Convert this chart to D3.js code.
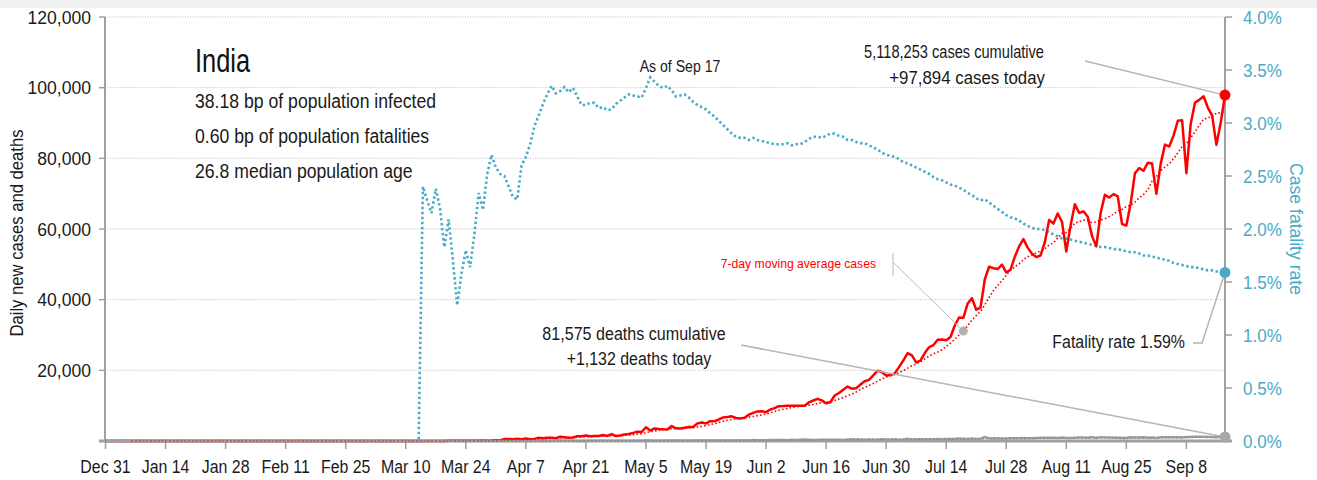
<!DOCTYPE html>
<html>
<head>
<meta charset="utf-8">
<script src="https://cdn.jsdelivr.net/npm/d3@7"></script>
<style>
  body { margin: 0; background: #fff; }
  svg text { font-family: "Liberation Sans", Arial, sans-serif; }
</style>
</head>
<body>
<div id="chart"></div>
<script>
// daily values, first day is Dec 31
var startDate = "2019-12-31";
var xTickDates = ["2019-12-31","2020-01-14","2020-01-28","2020-02-11","2020-02-25","2020-03-10","2020-03-24",
  "2020-04-07","2020-04-21","2020-05-05","2020-05-19","2020-06-02","2020-06-16","2020-06-30","2020-07-14",
  "2020-07-28","2020-08-11","2020-08-25","2020-09-08"];
var leftTicks = [0, 20000, 40000, 60000, 80000, 100000, 120000];
var rightTicks = [0, 0.005, 0.01, 0.015, 0.02, 0.025, 0.03, 0.035, 0.04];

// daily new cases
var casesDec = [0];
var casesJan = [0,0,0,0,0,0,0,0,0,0,0,0,0,0,0,0,0,0,0,0,0,0,0,0,0,0,0,0,0,0,1];
var casesFeb = [0,0,1,1,0,0,0,0,0,0,0,0,0,0,0,0,0,0,0,0,0,0,0,0,0,0,0,0,0];
var casesMar = [0,0,2,1,22,2,1,3,5,4,13,6,11,9,20,11,6,23,14,38,50,79,63,75,63,87,69,149,103,92,227];
var casesApr = [146,601,545,478,608,505,703,508,591,896,768,918,909,796,1211,1076,941,1007,1370,1334,
  1553,1336,1383,1409,1684,1429,1975,1396,1543,1813];
var casesMay = [1993,2293,2644,2553,3900,2958,3561,3390,3320,3277,4213,3604,3525,3722,3967,3970,4987,5242,4970,5611,
  5609,6088,6654,6767,6977,6535,6387,6566,7466,7964,8380];
var casesJun = [8392,8171,8909,9304,9851,9887,9971,9983,9987,9985,9996,10956,11458,11929,11502,10667,10974,12881,13586,14516,
  15413,14821,14933,15968,16922,17296,18552,19906,19459,18522];
var casesJul = [18653,19148,20903,22771,24850,24248,22252,22752,24879,26506,27114,28637,28701,28498,29429,32695,34956,34884,38902,40425,
  37148,37724,45720,49310,48916,48661,49931,47703,48513,52123,55079];
var casesAug = [57118,54735,52972,52050,52509,56282,62538,61537,64399,62064,53601,60963,66999,64553,65002,63490,57981,55079,64531,69652,
  68898,69878,69239,61408,60975,67151,75760,77266,76472,78761,78512];
var casesSep = [69921,78357,83883,83341,86432,90632,90802,75809,89706,95735,96551,97570,94372,92071,83809,90123,97894];

// daily new deaths
var deathsDec = [0];
var deathsJan = [0,0,0,0,0,0,0,0,0,0,0,0,0,0,0,0,0,0,0,0,0,0,0,0,0,0,0,0,0,0,0];
var deathsFeb = [0,0,0,0,0,0,0,0,0,0,0,0,0,0,0,0,0,0,0,0,0,0,0,0,0,0,0,0,0];
var deathsMar = [0,0,0,0,0,0,0,0,0,0,0,0,1,1,0,0,1,0,1,1,0,2,2,1,2,3,4,3,6,4,3];
var deathsApr = [3,12,12,21,11,25,33,12,21,38,35,25,35,36,38,36,38,42,31,33,36,46,48,39,37,53,53,63,43,73];
var deathsMay = [75,70,83,68,195,126,89,104,95,128,97,122,134,100,103,120,120,157,134,140,132,148,137,147,154,146,170,194,175,265,193];
var deathsJun = [204,217,260,273,294,287,206,331,279,357,396,386,311,325,380,343,334,336,375,306,445,465,418,407,384,410,380,417,507,418];
var deathsJul = [434,507,379,442,613,425,467,482,487,475,519,551,500,553,582,606,687,671,543,681,587,648,1129,740,757,705,708,654,768,775,764];
var deathsAug = [853,771,803,857,904,919,933,886,861,1007,871,834,942,1007,996,944,1092,876,1092,977,983,945,912,836,848,1059,1023,1021,1057,948,971];
var deathsSep = [819,1045,1043,1096,1089,1065,1016,1133,1115,1172,1209,1201,1114,1136,1054,1290,1132];

// case fatality rate (%), zero before Mar 13, daily from Mar 13
var cfrStart = "2020-03-13";
var cfrMar = [0,2.40,2.27,2.15,2.38,2.19,1.83,2.09,1.70,1.28,1.58,1.80,1.64,1.95,2.34,2.18,2.52,2.70,2.58];
var cfrApr = [2.52,2.50,2.40,2.30,2.28,2.60,2.68,2.80,2.97,3.07,3.18,3.27,3.35,3.28,3.30,3.34,3.29,3.33,3.25,3.17,
  3.17,3.19,3.19,3.14,3.15,3.12,3.13,3.18,3.21,3.24];
var cfrMay = [3.27,3.26,3.25,3.24,3.33,3.43,3.39,3.35,3.33,3.35,3.31,3.25,3.26,3.27,3.24,3.20,3.17,3.15,3.13,3.09,
  3.06,3.02,2.98,2.94,2.90,2.87,2.86,2.86,2.84,2.86,2.84];
var cfrJun = [2.83,2.82,2.81,2.80,2.80,2.80,2.81,2.79,2.80,2.80,2.82,2.85,2.87,2.87,2.86,2.88,2.90,2.90,2.88,2.87,
  2.84,2.84,2.82,2.81,2.81,2.79,2.77,2.75,2.72,2.70];
var cfrJul = [2.69,2.68,2.66,2.63,2.62,2.60,2.58,2.56,2.54,2.52,2.49,2.47,2.46,2.44,2.42,2.41,2.39,2.37,2.34,2.32,
  2.29,2.27,2.28,2.25,2.22,2.19,2.16,2.13,2.11,2.10,2.08];
var cfrAug = [2.05,2.03,2.01,2.00,2.00,1.99,1.97,1.95,1.93,1.91,1.91,1.90,1.89,1.88,1.87,1.86,1.85,1.84,1.83,1.83,
  1.82,1.81,1.81,1.80,1.79,1.78,1.78,1.77,1.75,1.75,1.74];
var cfrSep = [1.73,1.72,1.71,1.70,1.68,1.67,1.66,1.65,1.64,1.64,1.63,1.62,1.61,1.61,1.60,1.59,1.59];

var maDate = "2020-07-18"; // where the moving-average callout points

// ---------------------------------------------------------------
var W = 1317, H = 480;
var X0 = 105, X1 = 1225, Y0 = 17, Y1 = 441;
var teal = "#48abc8", red = "#ff0000", grey = "#a0a0a0", ink = "#1a1a1a";

var parse = d3.utcParse("%Y-%m-%d");
var day0 = parse(startDate);

var cases = [].concat(casesDec, casesJan, casesFeb, casesMar, casesApr, casesMay, casesJun, casesJul, casesAug, casesSep);
var deaths = [].concat(deathsDec, deathsJan, deathsFeb, deathsMar, deathsApr, deathsMay, deathsJun, deathsJul, deathsAug, deathsSep);
var cfrVals = [].concat(cfrMar, cfrApr, cfrMay, cfrJun, cfrJul, cfrAug, cfrSep);

// 7 day trailing mean
function ma7(arr, i) {
    if (i < 6) return null;
    return d3.mean(arr.slice(i - 6, i + 1));
}

var days = cases.map(function (c, i) {
    return {
        date: d3.utcDay.offset(day0, i),
        cases: c,
        deaths: deaths[i],
        casesMA: ma7(cases, i),
        deathsMA: ma7(deaths, i)
    };
});

var cfr = [{date: day0, v: 0}].concat(cfrVals.map(function (v, i) {
    return {date: d3.utcDay.offset(parse(cfrStart), i), v: v / 100};
}));

var last = days[days.length - 1];
var lastDate = last.date;

var x = d3.scaleUtc().domain([day0, lastDate]).range([X0 + 0.5, X1]);
var y = d3.scaleLinear().domain([0, 120000]).range([Y1, Y0]);
var y2 = d3.scaleLinear().domain([0, 0.04]).range([Y1, Y0]);

var svg = d3.select("#chart").append("svg")
    .attr("width", W)
    .attr("height", H);

// condensed text: squeeze horizontally
function txt(parent, px, py, str, size, sx, anchor, fill, rot) {
    return parent.append("text")
        .attr("transform", "translate(" + px + "," + py + ")" + (rot ? " rotate(" + rot + ")" : "") + " scale(" + sx + ",1)")
        .attr("text-anchor", anchor || "start")
        .attr("font-size", size)
        .attr("fill", fill || ink)
        .text(str);
}

svg.append("rect").attr("x", 0).attr("y", 0).attr("width", W).attr("height", 8).attr("fill", "#f0f0f0");

// gridlines
svg.append("g").selectAll("line")
    .data(leftTicks.filter(function (d) { return d > 0; }))
    .enter().append("line")
    .attr("x1", X0).attr("x2", X1)
    .attr("y1", function (d) { return y(d); })
    .attr("y2", function (d) { return y(d); })
    .attr("stroke", "#bdbdbd")
    .attr("stroke-width", 1)
    .attr("stroke-dasharray", "1,1.5");

// left axis
var gl = svg.append("g");
gl.append("line").attr("x1", X0).attr("x2", X0).attr("y1", Y0).attr("y2", Y1)
    .attr("stroke", grey).attr("stroke-width", 2);
gl.selectAll(".t").data(leftTicks).enter().append("line")
    .attr("x1", X0 - 6).attr("x2", X0)
    .attr("y1", function (d) { return y(d); }).attr("y2", function (d) { return y(d); })
    .attr("stroke", grey).attr("stroke-width", 1.5);
leftTicks.filter(function (d) { return d > 0; }).forEach(function (d) {
    txt(gl, X0 - 14, y(d) + 6.5, d3.format(",")(d), 18.5, 0.95, "end");
});

// right axis
var gr = svg.append("g");
gr.append("line").attr("x1", X1).attr("x2", X1).attr("y1", Y0).attr("y2", Y1)
    .attr("stroke", grey).attr("stroke-width", 2);
gr.selectAll(".t").data(rightTicks).enter().append("line")
    .attr("x1", X1).attr("x2", X1 + 7)
    .attr("y1", function (d) { return y2(d); }).attr("y2", function (d) { return y2(d); })
    .attr("stroke", grey).attr("stroke-width", 1.5);
rightTicks.forEach(function (d) {
    txt(gr, X1 + 18, y2(d) + 6.5, d3.format(".1%")(d), 18.5, 0.92, "start", teal);
});

// bottom axis
var gb = svg.append("g");
gb.append("line").attr("x1", X0 - 6).attr("x2", X1 + 7).attr("y1", Y1).attr("y2", Y1)
    .attr("stroke", grey).attr("stroke-width", 3);
gb.selectAll(".t").data(xTickDates).enter().append("line")
    .attr("x1", function (d) { return x(parse(d)); }).attr("x2", function (d) { return x(parse(d)); })
    .attr("y1", Y1).attr("y2", Y1 + 8)
    .attr("stroke", grey).attr("stroke-width", 1.5);
xTickDates.forEach(function (d) {
    txt(gb, x(parse(d)), Y1 + 32, d3.utcFormat("%b %-d")(parse(d)), 18.5, 0.86, "middle");
});

// axis titles
txt(svg, 23, (Y0 + Y1) / 2 + 4, "Daily new cases and deaths", 18.5, 0.9, "middle", ink, -90);
txt(svg, 1290, (Y0 + Y1) / 2, "Case fatality rate", 18.5, 0.95, "middle", teal, 90);

// lines
var lineOf = function (key, scale) {
    return d3.line()
        .defined(function (d) { return d[key] != null; })
        .x(function (d) { return x(d.date); })
        .y(function (d) { return scale(d[key]); });
};

svg.append("path").datum(cfr)
    .attr("d", lineOf("v", y2))
    .attr("fill", "none").attr("stroke", teal).attr("stroke-width", 2.6)
    .attr("stroke-dasharray", "2.4,2.6");

svg.append("path").datum(days)
    .attr("d", lineOf("cases", y))
    .attr("fill", "none").attr("stroke", red).attr("stroke-width", 2.5)
    .attr("stroke-linejoin", "round");

svg.append("path").datum(days)
    .attr("d", lineOf("deaths", y))
    .attr("fill", "none").attr("stroke", grey).attr("stroke-width", 2.5)
    .attr("stroke-linejoin", "round");

svg.append("path").datum(days)
    .attr("d", lineOf("casesMA", y))
    .attr("fill", "none").attr("stroke", red).attr("stroke-width", 1.6)
    .attr("stroke-dasharray", "1.6,2.2");

svg.append("path").datum(days)
    .attr("d", lineOf("deathsMA", y))
    .attr("fill", "none").attr("stroke", "#888").attr("stroke-width", 1.6)
    .attr("stroke-dasharray", "1.6,2.2");

// text block
txt(svg, 195, 72, "India", 33, 0.77, "start", "#111");
var info = ["38.18 bp of population infected", "0.60 bp of population fatalities", "26.8 median population age"];
info.forEach(function (d, i) {
    txt(svg, 195, 108 + i * 35, d, 21, 0.84);
});

txt(svg, 680, 72, "As of Sep 17", 17, 0.83, "middle");

// callouts
var lastCfr = cfr[cfr.length - 1];
var maPoint = days.find(function (d) { return +d.date === +parse(maDate); });

function leader(pts) {
    svg.append("path").attr("d", d3.line()(pts))
        .attr("fill", "none").attr("stroke", "#b5b5b5").attr("stroke-width", 1.5);
}

leader([[1085, 61], [x(lastDate), y(last.cases)]]);
leader([[741, 345], [x(lastDate), y(last.deaths)]]);
leader([[1193, 343], [1202, 343], [x(lastDate), y2(lastCfr.v)]]);
svg.append("line").attr("x1", 893).attr("x2", 893).attr("y1", 253).attr("y2", 276)
    .attr("stroke", "#cfcfcf").attr("stroke-width", 1.5);
svg.append("line").attr("x1", 893).attr("y1", 262).attr("x2", x(maPoint.date)).attr("y2", y(maPoint.casesMA))
    .attr("stroke", "#bdbdbd").attr("stroke-width", 1);

svg.append("circle").attr("cx", x(maPoint.date)).attr("cy", y(maPoint.casesMA)).attr("r", 4.5).attr("fill", "#b0b0b0");
svg.append("circle").attr("cx", x(lastDate)).attr("cy", y(last.deaths)).attr("r", 5.5).attr("fill", "#a8a8a8");
svg.append("circle").attr("cx", x(lastDate)).attr("cy", y2(lastCfr.v)).attr("r", 5.5).attr("fill", teal);
svg.append("circle").attr("cx", x(lastDate)).attr("cy", y(last.cases)).attr("r", 5.5).attr("fill", red);

txt(svg, 1044, 58, "5,118,253 cases cumulative", 18.5, 0.79, "end");
txt(svg, 1045, 84, "+97,894 cases today", 18.5, 0.91, "end");
txt(svg, 634, 340, "81,575 deaths cumulative", 18.5, 0.87, "middle");
txt(svg, 639, 365, "+1,132 deaths today", 18.5, 0.86, "middle");
txt(svg, 1185, 348, "Fatality rate 1.59%", 18.5, 0.86, "end");
txt(svg, 876, 268, "7-day moving average cases", 13.5, 0.9, "end", red);
</script>
</body>
</html>
